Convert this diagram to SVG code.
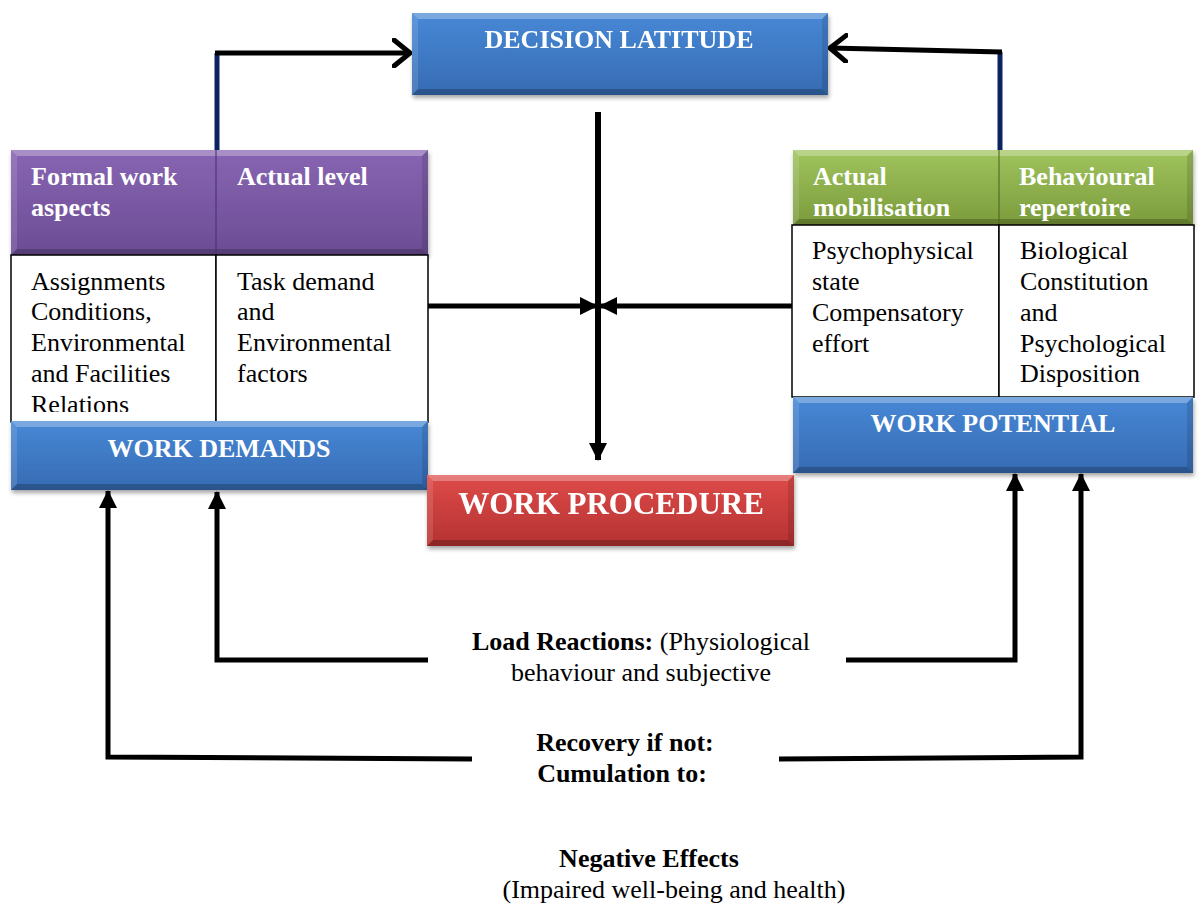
<svg xmlns="http://www.w3.org/2000/svg" width="1198" height="907" viewBox="0 0 1198 907">
  <defs>
    <linearGradient id="gBlue" x1="0" y1="0" x2="0" y2="1">
      <stop offset="0" stop-color="#4788d6"/>
      <stop offset="1" stop-color="#376bb3"/>
    </linearGradient>
    <linearGradient id="gPurple" x1="0" y1="0" x2="0" y2="1">
      <stop offset="0" stop-color="#8865b2"/>
      <stop offset="1" stop-color="#6c4c95"/>
    </linearGradient>
    <linearGradient id="gGreen" x1="0" y1="0" x2="0" y2="1">
      <stop offset="0" stop-color="#a0c45e"/>
      <stop offset="1" stop-color="#7b9b3b"/>
    </linearGradient>
    <linearGradient id="gRed" x1="0" y1="0" x2="0" y2="1">
      <stop offset="0" stop-color="#de4b49"/>
      <stop offset="1" stop-color="#b53232"/>
    </linearGradient>
    <filter id="shadow" x="-5%" y="-10%" width="110%" height="130%">
      <feDropShadow dx="1" dy="3" stdDeviation="2" flood-color="#000" flood-opacity="0.35"/>
    </filter>
    <clipPath id="clipLeftCells">
      <rect x="11" y="255" width="417" height="157"/>
    </clipPath>
    <clipPath id="clipRightHead">
      <rect x="793" y="150" width="400" height="73"/>
    </clipPath>
    <marker id="open" viewBox="0 0 20 30" refX="18" refY="15" markerWidth="20" markerHeight="30" markerUnits="userSpaceOnUse" orient="auto">
      <path d="M2,2 L18,15 L2,28" fill="none" stroke="#000" stroke-width="5" stroke-linecap="round" stroke-linejoin="round"/>
    </marker>
    <marker id="solid" viewBox="0 0 18 18" refX="17" refY="9" markerWidth="18" markerHeight="18" markerUnits="userSpaceOnUse" orient="auto">
      <path d="M0,0 L18,9 L0,18 Z" fill="#000"/>
    </marker>
    <style>
      .hdr { font-family: "Liberation Serif", "Times New Roman", serif; font-weight: bold; fill: #fff; font-size: 26px; }
      .big { font-size: 31px; }
      .body { font-family: "Liberation Serif", "Times New Roman", serif; fill: #000; font-size: 26px; }
      .bold { font-weight: bold; }
      .cell { fill: #fff; stroke: #000; stroke-width: 1.5; }
      .hl { fill: #fff; opacity: 0.28; }
      .hl2 { fill: #fff; opacity: 0.12; }
      .dk { fill: #000; opacity: 0.22; }
      .dk2 { fill: #000; opacity: 0.12; }
      .line { fill: none; stroke: #000; stroke-width: 5; }
      .thick { stroke-width: 6; }
      .navy { fill: none; stroke: #0b2361; stroke-width: 5; }
    </style>
  </defs>

  <!-- connectors -->
  <g id="connectors">
    <!-- feedback into decision latitude -->
    <line class="navy" x1="217" y1="152" x2="217" y2="53"/>
    <line class="line" x1="215" y1="53" x2="410" y2="53" marker-end="url(#open)"/>
    <line class="navy" x1="1000" y1="152" x2="1000" y2="52"/>
    <line class="line" x1="1002" y1="52" x2="830" y2="48" marker-end="url(#open)"/>
    <!-- central cross -->
    <line class="line thick" x1="598" y1="112" x2="598" y2="460" marker-end="url(#solid)"/>
    <line class="line" x1="428" y1="306" x2="597" y2="306" marker-end="url(#solid)"/>
    <line class="line" x1="792" y1="306" x2="600" y2="306" marker-end="url(#solid)"/>
    <!-- load reactions loop -->
    <polyline class="line" points="428,660 217,660 217,492" marker-end="url(#solid)"/>
    <polyline class="line" points="846,660 1015,660 1015,474" marker-end="url(#solid)"/>
    <!-- recovery / cumulation loop -->
    <polyline class="line" points="472,759 108,757 108,491" marker-end="url(#solid)"/>
    <polyline class="line" points="779,759 1081,757 1081,474" marker-end="url(#solid)"/>
  </g>

  <!-- decision latitude -->
  <g id="decision-latitude" filter="url(#shadow)">
    <rect x="412" y="13" width="416" height="82" fill="url(#gBlue)"/>
    <polygon class="hl" points="412,13 828,13 822,19 418,19"/>
    <polygon class="hl2" points="412,13 418,19 418,89 412,95"/>
    <polygon class="dk" points="412,95 828,95 822,89 418,89"/>
    <polygon class="dk2" points="828,13 828,95 822,89 822,19"/>
    <text class="hdr" x="619" y="48" text-anchor="middle">DECISION LATITUDE</text>
  </g>

  <!-- work demands block -->
  <g id="work-demands">
    <g filter="url(#shadow)">
      <rect x="11" y="150" width="417" height="105" fill="url(#gPurple)"/>
      <polygon class="hl" points="11,150 428,150 422,156 17,156"/>
      <polygon class="hl2" points="11,150 17,156 17,249 11,255"/>
      <polygon class="dk" points="11,255 428,255 422,249 17,249"/>
      <polygon class="dk2" points="428,150 428,255 422,249 422,156"/>
    </g>
    <line x1="216" y1="150" x2="216" y2="255" stroke="#4a2f6e" stroke-width="1.5" opacity="0.7"/>
    <text class="hdr" x="31" y="185">Formal work</text>
    <text class="hdr" x="31" y="216">aspects</text>
    <text class="hdr" x="237" y="185">Actual level</text>

    <rect class="cell" x="11" y="255" width="205" height="167"/>
    <rect class="cell" x="216" y="255" width="212" height="167"/>
    <g clip-path="url(#clipLeftCells)">
      <text class="body" x="31" y="290">Assignments</text>
      <text class="body" x="31" y="320">Conditions,</text>
      <text class="body" x="31" y="351">Environmental</text>
      <text class="body" x="31" y="382">and Facilities</text>
      <text class="body" x="31" y="413">Relations</text>
    </g>
    <text class="body" x="237" y="290">Task demand</text>
    <text class="body" x="237" y="320">and</text>
    <text class="body" x="237" y="351">Environmental</text>
    <text class="body" x="237" y="382">factors</text>

    <g filter="url(#shadow)">
      <rect x="11" y="421" width="417" height="69" fill="url(#gBlue)"/>
      <polygon class="hl" points="11,421 428,421 422,427 17,427"/>
      <polygon class="hl2" points="11,421 17,427 17,484 11,490"/>
      <polygon class="dk" points="11,490 428,490 422,484 17,484"/>
      <polygon class="dk2" points="428,421 428,490 422,484 422,427"/>
    </g>
    <text class="hdr" x="219" y="457" text-anchor="middle">WORK DEMANDS</text>
  </g>

  <!-- work potential block -->
  <g id="work-potential">
    <g filter="url(#shadow)">
      <rect x="793" y="150" width="400" height="75" fill="url(#gGreen)"/>
      <polygon class="hl" points="793,150 1193,150 1187,156 799,156"/>
      <polygon class="hl2" points="793,150 799,156 799,219 793,225"/>
      <polygon class="dk" points="793,225 1193,225 1187,219 799,219"/>
      <polygon class="dk2" points="1193,150 1193,225 1187,219 1187,156"/>
    </g>
    <line x1="999" y1="150" x2="999" y2="225" stroke="#4d6420" stroke-width="1.5" opacity="0.7"/>
    <g clip-path="url(#clipRightHead)">
      <text class="hdr" x="813" y="185">Actual</text>
      <text class="hdr" x="813" y="216">mobilisation</text>
      <text class="hdr" x="1019" y="185">Behavioural</text>
      <text class="hdr" x="1019" y="216">repertoire</text>
    </g>

    <rect class="cell" x="792" y="225" width="207" height="172"/>
    <rect class="cell" x="999" y="225" width="195" height="172"/>
    <text class="body" x="812" y="259">Psychophysical</text>
    <text class="body" x="812" y="290">state</text>
    <text class="body" x="812" y="321">Compensatory</text>
    <text class="body" x="812" y="352">effort</text>
    <text class="body" x="1020" y="259">Biological</text>
    <text class="body" x="1020" y="290">Constitution</text>
    <text class="body" x="1020" y="321">and</text>
    <text class="body" x="1020" y="352">Psychological</text>
    <text class="body" x="1020" y="382">Disposition</text>

    <g filter="url(#shadow)">
      <rect x="793" y="397" width="400" height="76" fill="url(#gBlue)"/>
      <polygon class="hl" points="793,397 1193,397 1187,403 799,403"/>
      <polygon class="hl2" points="793,397 799,403 799,467 793,473"/>
      <polygon class="dk" points="793,473 1193,473 1187,467 799,467"/>
      <polygon class="dk2" points="1193,397 1193,473 1187,467 1187,403"/>
    </g>
    <text class="hdr" x="993" y="432" text-anchor="middle">WORK POTENTIAL</text>
  </g>

  <!-- work procedure -->
  <g id="work-procedure" filter="url(#shadow)">
    <rect x="427" y="475" width="367" height="71" fill="url(#gRed)"/>
    <polygon class="hl" points="427,475 794,475 788,481 433,481"/>
    <polygon class="hl2" points="427,475 433,481 433,540 427,546"/>
    <polygon class="dk" points="427,546 794,546 788,540 433,540"/>
    <polygon class="dk2" points="794,475 794,546 788,540 788,481"/>
    <text class="hdr big" x="611" y="514" text-anchor="middle">WORK PROCEDURE</text>
  </g>

  <!-- load reactions label -->
  <g id="load-reactions">
    <text class="body" x="641" y="650" text-anchor="middle"><tspan class="bold">Load Reactions:</tspan> (Physiological</text>
    <text class="body" x="641" y="681" text-anchor="middle">behaviour and subjective</text>
  </g>

  <!-- recovery label -->
  <g id="recovery">
    <text class="body bold" x="625" y="751" text-anchor="middle">Recovery if not:</text>
    <text class="body bold" x="622" y="782" text-anchor="middle">Cumulation to:</text>
  </g>

  <!-- negative effects label -->
  <g id="negative-effects">
    <text class="body bold" x="649" y="867" text-anchor="middle">Negative Effects</text>
    <text class="body" x="674" y="898" text-anchor="middle">(Impaired well-being and health)</text>
  </g>
</svg>
